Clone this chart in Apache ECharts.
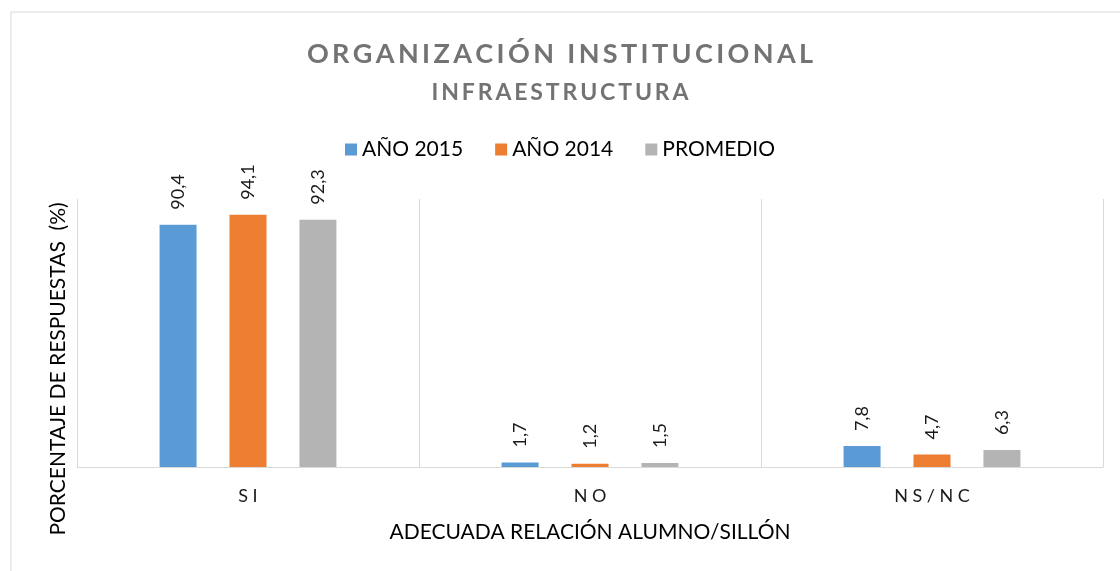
<!DOCTYPE html>
<html>
<head>
<meta charset="utf-8">
<script src="https://cdn.jsdelivr.net/npm/echarts@6/dist/echarts.min.js"></script>
<style>
  html, body { margin: 0; padding: 0; background: #fff; }
  #chart { width: 1120px; height: 571px; }
</style>
</head>
<body>
<div id="chart"></div>
<script>
// datos del gráfico
const categories = ['SI', 'NO', 'NS/NC'];
const seriesNames = ['AÑO 2015', 'AÑO 2014', 'PROMEDIO'];
const anio2015 = [90.4, 1.7, 7.8];
const anio2014 = [94.1, 1.2, 4.7];
const promedio = [92.3, 1.5, 6.3];
const colors = ['#5B9BD5', '#ED7D31', '#B4B4B4'];

const FONT = 'Lato, "Open Sans", sans-serif';
// separa las letras como en el original
const spaced = (s, sp) => s.split('').join(sp);

const chart = echarts.init(document.getElementById('chart'));

function barSeries (name, data, color) {
  return {
    name: name,
    type: 'bar',
    data: data,
    barWidth: 37,
    barGap: '89%',
    itemStyle: { color: color },
    label: {
      show: true,
      position: 'top',
      rotate: 90,
      align: 'left',
      verticalAlign: 'middle',
      distance: 15,
      color: '#1a1a1a',
      fontSize: 18,
      fontFamily: FONT,
      formatter: p => String(p.value).replace('.', ',')
    }
  };
}

chart.setOption({
  animation: false,
  textStyle: { fontFamily: FONT },
  graphic: [{
    type: 'rect',
    shape: { x: 11, y: 12, width: 1200, height: 700 },
    style: { fill: 'none', stroke: '#d9d9d9', lineWidth: 1 },
    silent: true
  }],
  title: [{
    text: spaced('ORGANIZACIÓN INSTITUCIONAL', '\u2009'),
    left: 'center',
    top: 36,
    textStyle: { color: '#737373', fontSize: 27, fontWeight: 'bold', fontFamily: FONT }
  }, {
    text: spaced('INFRAESTRUCTURA', '\u2009'),
    left: 'center',
    top: 76,
    textStyle: { color: '#737373', fontSize: 23, fontWeight: 'bold', fontFamily: FONT }
  }],
  legend: {
    top: 134,
    left: 'center',
    itemWidth: 12,
    itemHeight: 12,
    itemGap: 32,
    icon: 'rect',
    textStyle: { color: '#000', fontSize: 21, fontFamily: FONT },
    data: seriesNames
  },
  grid: { left: 77, right: 17, top: 199, bottom: 104 },
  xAxis: {
    type: 'category',
    data: categories,
    name: 'ADECUADA RELACIÓN ALUMNO/SILLÓN',
    nameLocation: 'middle',
    nameGap: 55,
    nameTextStyle: { color: '#000', fontSize: 21, fontFamily: FONT },
    axisLine: { lineStyle: { color: '#d9d9d9', width: 1 } },
    axisTick: { show: false },
    splitLine: { show: true, lineStyle: { color: '#d9d9d9', width: 1 } },
    axisLabel: {
      color: '#1a1a1a',
      fontSize: 18,
      margin: 20,
      fontFamily: FONT,
      formatter: v => spaced(v, '\u2005')
    }
  },
  yAxis: {
    type: 'value',
    min: 0,
    max: 100,
    name: 'PORCENTAJE DE RESPUESTAS  (%)',
    nameLocation: 'middle',
    nameGap: 8,
    nameTextStyle: { color: '#000', fontSize: 21, fontFamily: FONT, padding: [0, 72, 0, 0] },
    axisLine: { show: false },
    axisTick: { show: false },
    axisLabel: { show: false },
    splitLine: { show: false }
  },
  series: [
    barSeries(seriesNames[0], anio2015, colors[0]),
    barSeries(seriesNames[1], anio2014, colors[1]),
    barSeries(seriesNames[2], promedio, colors[2])
  ]
});
</script>
</body>
</html>
